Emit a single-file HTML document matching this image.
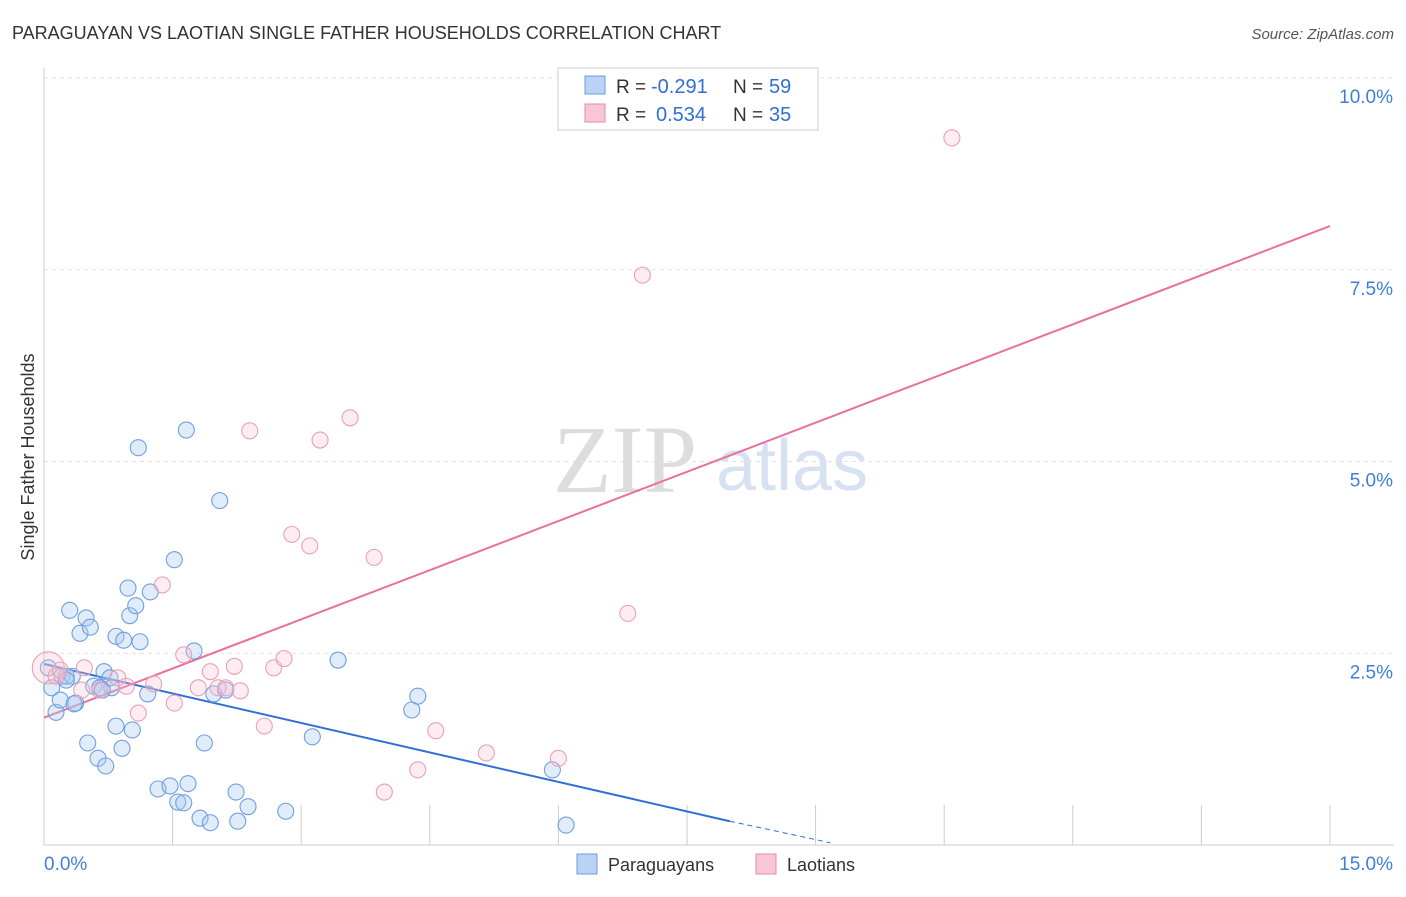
<!DOCTYPE html>
<html><head><meta charset="utf-8"><style>
body{margin:0;background:#fff;font-family:"Liberation Sans",sans-serif;}
</style></head><body>
<svg id="chart" width="1406" height="892" xmlns="http://www.w3.org/2000/svg" font-family="Liberation Sans, sans-serif">
<text x="12" y="39" font-size="18" fill="#333">PARAGUAYAN VS LAOTIAN SINGLE FATHER HOUSEHOLDS CORRELATION CHART</text>
<text x="1394" y="39" font-size="15" fill="#555" font-style="italic" text-anchor="end">Source: ZipAtlas.com</text>
<text transform="translate(34,457) rotate(-90)" font-size="18" fill="#333" text-anchor="middle">Single Father Households</text>
<g>
<text x="553" y="492" font-size="96" fill="#ddd" font-family="Liberation Serif, serif">ZIP</text>
<text x="716" y="490" font-size="72" fill="#d6e2f2">atlas</text>
</g>
<g id="grid"></g>
<g id="axes"></g>
<g id="trends"></g>
<g id="points"></g>
<g>
<rect x="558" y="68" width="260" height="62" fill="#fff" stroke="#ccc"/>
<rect x="585" y="76" width="20" height="18" fill="#b9d3f5" stroke="#6a9ee0"/>
<rect x="585" y="104" width="20" height="18" fill="#f9c6d5" stroke="#e98aa8"/>
<text x="616" y="93" font-size="19" fill="#333">R =</text>
<text x="651" y="93" font-size="20" fill="#2f6fd6">-0.291</text>
<text x="733" y="93" font-size="19" fill="#333">N =</text>
<text x="769" y="93" font-size="20" fill="#2f6fd6">59</text>
<text x="616" y="121" font-size="19" fill="#333">R =</text>
<text x="656" y="121" font-size="20" fill="#2f6fd6">0.534</text>
<text x="733" y="121" font-size="19" fill="#333">N =</text>
<text x="769" y="121" font-size="20" fill="#2f6fd6">35</text>
</g>
<g>
<rect x="577" y="854" width="20" height="20" fill="#b9d3f5" stroke="#6a9ee0"/>
<text x="608" y="871" font-size="18" fill="#333">Paraguayans</text>
<rect x="756" y="854" width="20" height="20" fill="#f9c6d5" stroke="#e98aa8"/>
<text x="787" y="871" font-size="18" fill="#333">Laotians</text>
</g>
</svg>
<script>
const yTicks=[2.5,5.0,7.5,10.0];
const yTickLabels=["2.5%","5.0%","7.5%","10.0%"];
const xTickCount=10;
const xLabels=["0.0%","15.0%"];
const blueX=[.05,.09,.14,.21,.26,.30,.42,.49,.54,.37,.51,.63,.72,.58,.65,.70,.77,.79,.84,.84,.93,.91,.98,1.00,1.07,1.12,1.03,1.10,1.21,1.24,1.52,1.66,1.75,1.87,1.98,2.05,2.12,1.33,1.47,1.56,1.63,1.68,1.82,1.94,2.24,2.26,2.38,2.82,3.13,3.43,4.29,4.36,5.93,6.09,.19,.35,.33,.68,.26];
const blueY=[2.31,2.05,1.73,2.20,2.20,3.06,2.76,2.96,2.84,1.85,1.33,1.13,1.03,2.07,2.05,2.26,2.18,2.05,1.55,2.72,2.67,1.26,3.35,2.99,3.12,2.65,1.50,5.18,1.97,3.30,3.72,5.41,2.53,1.33,1.97,4.49,2.02,0.73,0.77,0.56,0.55,0.80,0.35,0.29,0.69,0.31,0.50,0.44,1.41,2.41,1.76,1.94,0.98,0.26,1.89,1.84,2.20,2.02,2.15];
const pinkX=[.05,.14,.19,.47,.44,.65,.86,.96,1.10,1.28,1.38,1.52,1.63,1.80,1.94,2.03,2.12,2.22,2.29,2.40,2.57,2.68,2.80,2.89,3.10,3.22,3.57,3.85,3.97,4.36,4.57,5.16,6.00,6.81,6.98,10.59];
const pinkY=[2.31,2.20,2.28,2.31,2.02,2.02,2.18,2.07,1.72,2.10,3.39,1.85,2.48,2.05,2.26,2.05,2.05,2.33,2.01,5.40,1.55,2.31,2.43,4.05,3.90,5.28,5.57,3.75,0.69,0.98,1.49,1.20,1.13,3.02,7.43,9.22];
const blueTrend=[2.36,0.31,0.03];
const blueTrendX=[0,8.0,9.17];
const pinkTrend=[1.66,8.07];
const pinkTrendX=[0,15];
const NS="http://www.w3.org/2000/svg";
const sx=v=>44+v*85.73;
const sy=v=>845-v*76.7;
function mk(tag,attrs,parent){const e=document.createElementNS(NS,tag);for(const k in attrs)e.setAttribute(k,attrs[k]);parent.appendChild(e);return e;}
const grid=document.getElementById('grid'),axes=document.getElementById('axes'),tr=document.getElementById('trends'),pts=document.getElementById('points');
yTicks.forEach((t,i)=>{
 const l=mk('line',{x1:44,x2:1394,y1:sy(t),y2:sy(t),stroke:'#e2e2e2','stroke-dasharray':'4,4'},grid);
 
 
 const tx=mk('text',{x:1393,y:sy(t)+25,'font-size':19,fill:'#3f7fd9','text-anchor':'end'},axes);
 tx.textContent=yTickLabels[i];
 
 
});
for(let i=0;i<=xTickCount;i++){
 const x=sx(i*1.5);
 const l=mk('line',{x1:x,x2:x,y1:805,y2:845,stroke:'#ccc'},axes);
 
 
}
let a=mk('line',{x1:44,x2:44,y1:68,y2:845,stroke:'#ccc'},axes);


a=mk('line',{x1:44,x2:1394,y1:845,y2:845,stroke:'#ccc'},axes);


let t=mk('text',{x:44,y:870,'font-size':19,fill:'#3f7fd9'},axes);t.textContent=xLabels[0];


t=mk('text',{x:1393,y:870,'font-size':19,fill:'#3f7fd9','text-anchor':'end'},axes);t.textContent=xLabels[1];


blueX.forEach((v,i)=>{
 const c=mk('circle',{cx:sx(v),cy:sy(blueY[i]),r:8,fill:'rgba(170,200,240,0.35)',stroke:'#6f9fe0','stroke-width':1.1},pts);
 
 
});
pinkX.forEach((v,i)=>{
 const c=mk('circle',{cx:sx(v),cy:sy(pinkY[i]),r:i===0?16:8,fill:'rgba(248,195,212,0.3)',stroke:'#ec9fb8','stroke-width':1.1},pts);
 
 
});
let ln=mk('line',{x1:sx(blueTrendX[0]),y1:sy(blueTrend[0]),x2:sx(blueTrendX[1]),y2:sy(blueTrend[1]),stroke:'#2f6fd6','stroke-width':2},tr);


ln=mk('line',{x1:sx(blueTrendX[1]),y1:sy(blueTrend[1]),x2:sx(blueTrendX[2]),y2:sy(blueTrend[2]),stroke:'#2f6fd6','stroke-width':1,'stroke-dasharray':'5,4'},tr);


ln=mk('line',{x1:sx(pinkTrendX[0]),y1:sy(pinkTrend[0]),x2:sx(pinkTrendX[1]),y2:sy(pinkTrend[1]),stroke:'#e8719b','stroke-width':2},tr);


</script>
</body></html>
